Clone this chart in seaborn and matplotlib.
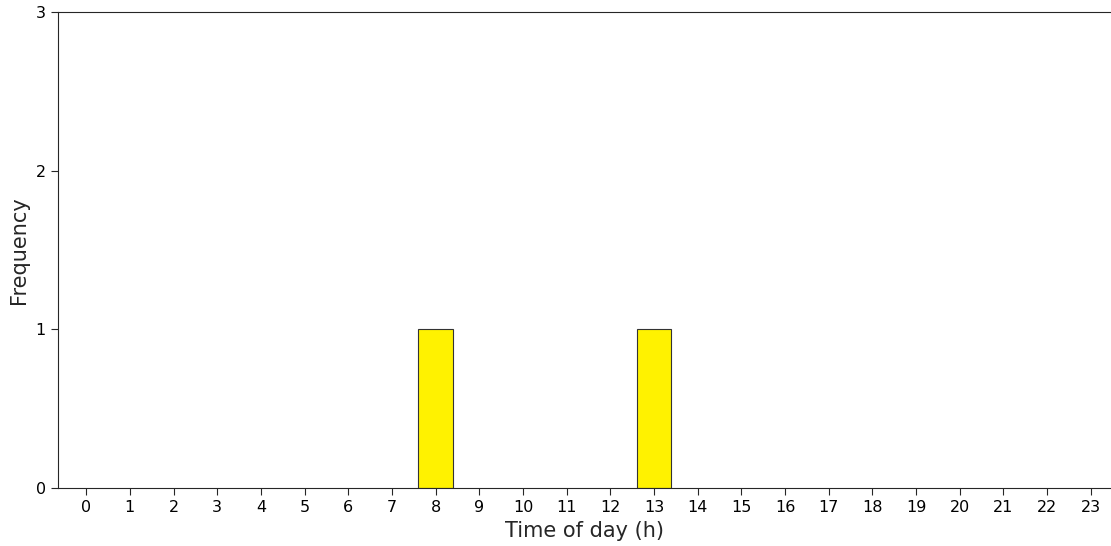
import matplotlib
matplotlib.use("Agg")
import matplotlib.pyplot as plt
import seaborn as sns
import pandas as pd

# hours of day shown on x axis, and the recorded event hours
hours = list(range(24))
event_hours = [8, 13]

df = pd.DataFrame({"hour": event_hours})

sns.set_style("ticks")
fig, ax = plt.subplots(figsize=(11.11, 5.46), dpi=100)

sns.countplot(data=df, x="hour", order=hours, color="#FFF200",
              edgecolor="#333333", linewidth=0.8, saturation=1, ax=ax)

ax.set_ylim(0, 3)
ax.set_yticks([0, 1, 2, 3])
ax.set_xlim(-0.65, 23.45)
ax.set_xlabel("Time of day (h)", fontsize=15, labelpad=4.5)
ax.set_ylabel("Frequency", fontsize=15, labelpad=5)
ax.tick_params(labelsize=11.5, labelcolor="black", length=5, pad=3.5)
ax.spines["right"].set_visible(False)

plt.subplots_adjust(left=0.052, right=0.9995, top=0.978, bottom=0.106)
plt.savefig("out.png", dpi=100)
